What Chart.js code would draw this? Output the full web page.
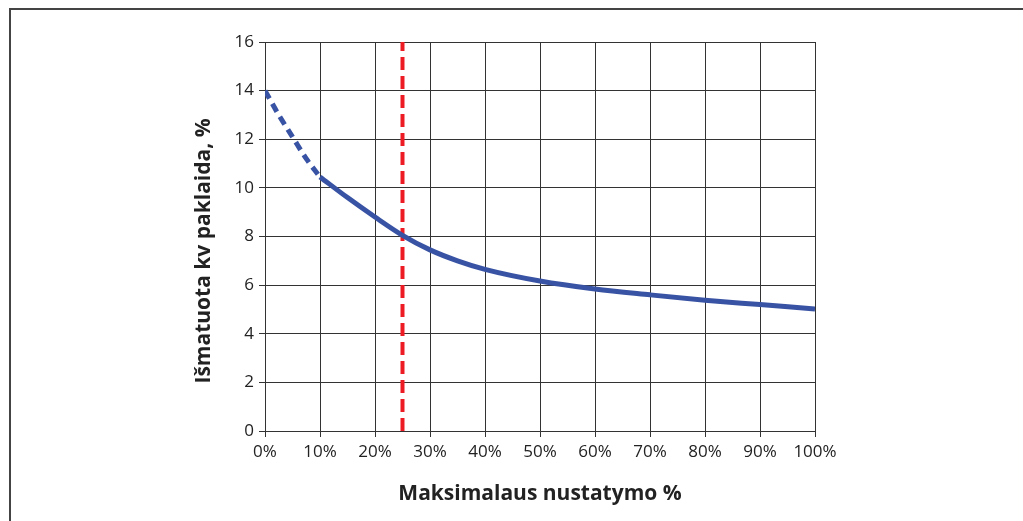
<!DOCTYPE html>
<html>
<head>
<meta charset="utf-8">
<script src="https://cdn.jsdelivr.net/npm/chart.js@4"></script>
<style>
  html, body { margin: 0; padding: 0; background: #fff; }
  #wrap { position: relative; width: 1023px; height: 521px; }
  #frame { position: absolute; left: 9px; top: 8px; right: 0; bottom: 0;
           border-top: 2px solid #444; border-left: 2px solid #444; }
  canvas { position: absolute; left: 0; top: 0; }
</style>
</head>
<body>
<div id="wrap">
  <div id="frame"></div>
  <canvas id="chart" width="1023" height="521"></canvas>
</div>
<script>
// extrapolated part (dashed)
var dashed_x = [0, 2.5, 5, 7.5, 10];
var dashed_y = [14.0, 13.0, 12.1, 11.2, 10.45];
// measured part (solid)
var solid_x = [10, 15, 20, 25, 30, 35, 40, 50, 60, 70, 80, 90, 100];
var solid_y = [10.45, 9.6, 8.8, 8.05, 7.45, 7.0, 6.65, 6.17, 5.84, 5.6, 5.38, 5.2, 5.02];
// red marker at 25%
var marker_x = 25;
var y_min = 0, y_max = 16;
var y_title = "Išmatuota kv paklaida, %";
var x_title = "Maksimalaus nustatymo %";

var blue = "#3953A4";
var red = "#ED1C24";
var grid_color = "#333";
var tick_font = { family: "Open Sans", size: 17 };
var title_font = { family: "Open Sans", size: 21, weight: "bold" };

function to_points(xs, ys) {
    var pts = [];
    for (var i = 0; i < xs.length; i++) pts.push({ x: xs[i], y: ys[i] });
    return pts;
}

// y title sits a bit below the centre of the axis, so draw it by hand
var yTitlePlugin = {
    id: 'yTitle',
    afterDraw: function(chart) {
        var c = chart.ctx;
        c.save();
        c.translate(204, 251);
        c.rotate(-Math.PI / 2);
        c.font = "bold 21px 'Open Sans'";
        c.fillStyle = "#222";
        c.textAlign = "center";
        c.textBaseline = "middle";
        c.fillText(y_title, 0, 0);
        c.restore();
    }
};

var ctx = document.getElementById("chart");

var chart = new Chart(ctx, {
    type: 'line',
    data: {
        datasets: [
            {
                data: to_points(solid_x, solid_y),
                borderColor: blue,
                borderWidth: 5,
                pointRadius: 0,
                tension: 0.4,
                cubicInterpolationMode: 'monotone'
            },
            {
                data: to_points(dashed_x, dashed_y),
                borderColor: blue,
                borderWidth: 5,
                borderDash: [9, 6],
                pointRadius: 0,
                tension: 0.4,
                cubicInterpolationMode: 'monotone'
            },
            {
                data: [{ x: marker_x, y: y_min }, { x: marker_x, y: y_max }],
                borderColor: red,
                borderWidth: 4,
                borderDash: [13, 6],
                pointRadius: 0
            }
        ]
    },
    options: {
        responsive: false,
        animation: false,
        layout: { padding: { left: 192, top: 42, right: 208, bottom: 10 } },
        plugins: { legend: { display: false }, tooltip: { enabled: false } },
        scales: {
            x: {
                type: 'linear',
                min: 0,
                max: 100,
                afterFit: function(scale) { scale.height = 521 - 431 - 10; },
                ticks: {
                    stepSize: 10,
                    color: "#222",
                    font: tick_font,
                    padding: 5,
                    maxRotation: 0,
                    callback: function(v) { return v + "%"; }
                },
                grid: { color: grid_color, lineWidth: 1, tickLength: 6 },
                border: { color: grid_color, width: 1 },
                title: {
                    display: true,
                    text: x_title,
                    color: "#222",
                    font: title_font,
                    padding: { top: 4, bottom: 4 }
                }
            },
            y: {
                min: y_min,
                max: y_max,
                afterFit: function(scale) { scale.width = 265 - 192; },
                ticks: {
                    stepSize: 2,
                    color: "#222",
                    font: tick_font,
                    padding: 5
                },
                grid: { color: grid_color, lineWidth: 1, tickLength: 6 },
                border: { color: grid_color, width: 1 }
            }
        }
    },
    plugins: [yTitlePlugin]
});
</script>
</body>
</html>
